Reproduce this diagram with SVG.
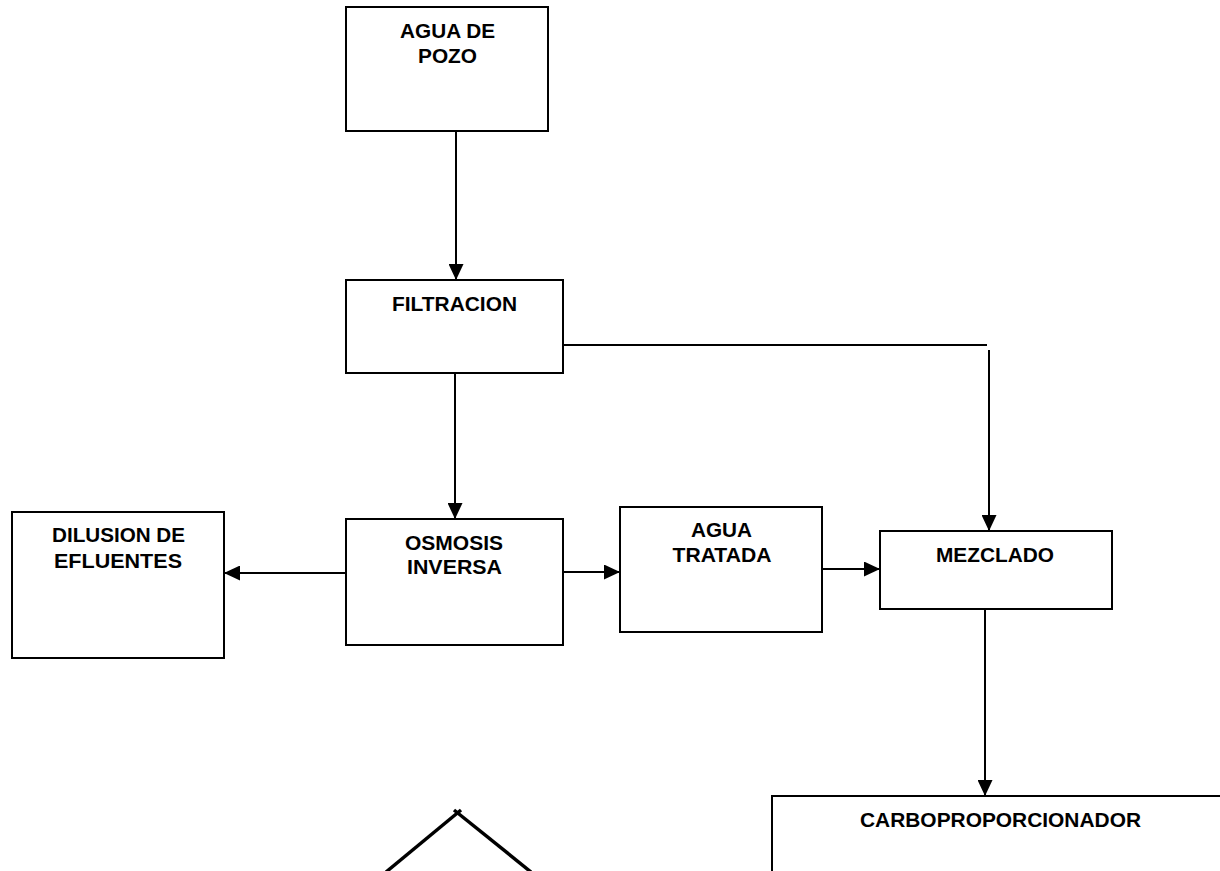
<svg xmlns="http://www.w3.org/2000/svg" width="1220" height="871" viewBox="0 0 1220 871">
<style>
.box{fill:#fff;stroke:#000;stroke-width:2}
.lbl{font-family:"Liberation Sans",Arial,sans-serif;font-weight:bold;font-size:20px;fill:#000;text-anchor:middle}
.conn{fill:none;stroke:#000;stroke-width:2}
</style>
<defs>
<marker id="ah" viewBox="0 0 16 15" refX="16" refY="7.5" markerWidth="16" markerHeight="15" markerUnits="userSpaceOnUse" orient="auto">
<path d="M0,0 L16,7.5 L0,15 Z" fill="#000"/>
</marker>
</defs>
<rect width="1220" height="871" fill="#fff"/>
<g id="connectors">
<line class="conn" x1="456" y1="131" x2="456" y2="280" marker-end="url(#ah)"/>
<line class="conn" x1="455" y1="373" x2="455" y2="519" marker-end="url(#ah)"/>
<line class="conn" x1="563" y1="345" x2="987" y2="345"/>
<line class="conn" x1="989" y1="350" x2="989" y2="531" marker-end="url(#ah)"/>
<line class="conn" x1="346" y1="573" x2="224" y2="573" marker-end="url(#ah)"/>
<line class="conn" x1="563" y1="572" x2="620" y2="572" marker-end="url(#ah)"/>
<line class="conn" x1="822" y1="569" x2="880" y2="569" marker-end="url(#ah)"/>
<line class="conn" x1="985" y1="609" x2="985" y2="796" marker-end="url(#ah)"/>
</g>
<g id="agua-de-pozo">
<rect class="box" x="346" y="7" width="202" height="124"/>
<text class="lbl" x="447.5" y="38" textLength="95" lengthAdjust="spacingAndGlyphs">AGUA DE</text>
<text class="lbl" x="447.5" y="63" textLength="59" lengthAdjust="spacingAndGlyphs">POZO</text>
</g>
<g id="filtracion">
<rect class="box" x="346" y="280" width="217" height="93"/>
<text class="lbl" x="454.5" y="311" textLength="125" lengthAdjust="spacingAndGlyphs">FILTRACION</text>
</g>
<g id="osmosis-inversa">
<rect class="box" x="346" y="519" width="217" height="126"/>
<text class="lbl" x="454" y="550" textLength="98" lengthAdjust="spacingAndGlyphs">OSMOSIS</text>
<text class="lbl" x="454.5" y="574" textLength="95" lengthAdjust="spacingAndGlyphs">INVERSA</text>
</g>
<g id="dilusion-de-efluentes">
<rect class="box" x="12" y="512" width="212" height="146"/>
<text class="lbl" x="118.5" y="542" textLength="133" lengthAdjust="spacingAndGlyphs">DILUSION DE</text>
<text class="lbl" x="118" y="568" textLength="128" lengthAdjust="spacingAndGlyphs">EFLUENTES</text>
</g>
<g id="agua-tratada">
<rect class="box" x="620" y="507" width="202" height="125"/>
<text class="lbl" x="721.5" y="537" textLength="61" lengthAdjust="spacingAndGlyphs">AGUA</text>
<text class="lbl" x="722" y="562" textLength="99" lengthAdjust="spacingAndGlyphs">TRATADA</text>
</g>
<g id="mezclado">
<rect class="box" x="880" y="531" width="232" height="78"/>
<text class="lbl" x="995" y="562" textLength="118" lengthAdjust="spacingAndGlyphs">MEZCLADO</text>
</g>
<g id="carboproporcionador">
<rect class="box" x="772" y="796" width="460" height="100"/>
<text class="lbl" x="1000.5" y="827" textLength="281" lengthAdjust="spacingAndGlyphs">CARBOPROPORCIONADOR</text>
</g>
<g id="decision-shape">
<line x1="386" y1="872" x2="461" y2="810" stroke="#000" stroke-width="3.5"/>
<line x1="454" y1="810" x2="531" y2="872" stroke="#000" stroke-width="3.5"/>
</g>
</svg>
